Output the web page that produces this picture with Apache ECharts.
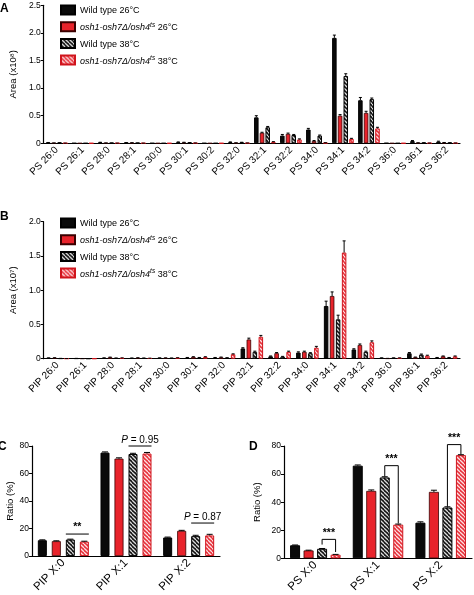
<!DOCTYPE html>
<html><head><meta charset="utf-8">
<script src="https://cdn.jsdelivr.net/npm/echarts@6/dist/echarts.min.js"></script>
<style>html,body{margin:0;padding:0;background:#fff}#c{width:474px;height:595px}</style>
</head><body><div id="c"></div>
<script>
// ---------- data ----------
const seriesNames = ['Wild type 26°C', 'osh1-osh7Δ/osh4ts 26°C', 'Wild type 38°C', 'osh1-osh7Δ/osh4ts 38°C'];

const catsA = ['PS 26:0','PS 26:1','PS 28:0','PS 28:1','PS 30:0','PS 30:1','PS 30:2','PS 32:0','PS 32:1','PS 32:2','PS 34:0','PS 34:1','PS 34:2','PS 36:0','PS 36:1','PS 36:2'];
const aWt26  = [0.012,0.002,0.015,0.010,0.002,0.020,0.002,0.020,0.47,0.14,0.25,1.91,0.78,0.003,0.040,0.030];
const aMut26 = [0.004,0.001,0.004,0.008,0.001,0.015,0.001,0.006,0.19,0.17,0.04,0.50,0.55,0.001,0.006,0.012];
const aWt38  = [0.008,0.001,0.004,0.004,0.001,0.010,0.001,0.015,0.29,0.15,0.14,1.22,0.80,0.001,0.008,0.008];
const aMut38 = [0.002,0.001,0.002,0.002,0.001,0.004,0.001,0.004,0.025,0.07,0.008,0.08,0.27,0.001,0.003,0.004];
const aWt26Err  = [0.003,0,0.004,0.003,0,0.005,0,0.005,0.03,0.02,0.02,0.05,0.05,0,0.01,0.008];
const aMut26Err = [0.002,0,0.002,0.002,0,0.004,0,0.002,0.01,0.015,0.01,0.02,0.03,0,0.002,0.003];
const aWt38Err  = [0.002,0,0.002,0.002,0,0.003,0,0.004,0.015,0.01,0.01,0.04,0.02,0,0.002,0.002];
const aMut38Err = [0.001,0,0.001,0.001,0,0.002,0,0.002,0.005,0.01,0.003,0.01,0.02,0,0.001,0.001];

const catsB = ['PIP 26:0','PIP 26:1','PIP 28:0','PIP 28:1','PIP 30:0','PIP 30:1','PIP 32:0','PIP 32:1','PIP 32:2','PIP 34:0','PIP 34:1','PIP 34:2','PIP 36:0','PIP 36:1','PIP 36:2'];
const bWt26  = [0.010,0.004,0.010,0.008,0.010,0.015,0.015,0.15,0.035,0.09,0.77,0.135,0.010,0.080,0.015];
const bMut26 = [0.012,0.002,0.020,0.012,0.010,0.025,0.020,0.28,0.080,0.10,0.915,0.20,0.004,0.020,0.035];
const bWt38  = [0.004,0.001,0.008,0.008,0.008,0.015,0.012,0.10,0.030,0.08,0.575,0.10,0.010,0.060,0.015];
const bMut38 = [0.002,0.001,0.010,0.006,0.012,0.025,0.065,0.32,0.100,0.16,1.55,0.24,0.010,0.045,0.035];
const bWt26Err  = [0.002,0.001,0.002,0.002,0.002,0.003,0.003,0.01,0.005,0.01,0.07,0.01,0.002,0.01,0.003];
const bMut26Err = [0.002,0.001,0.003,0.002,0.002,0.004,0.004,0.02,0.01,0.01,0.06,0.015,0.001,0.004,0.005];
const bWt38Err  = [0.001,0,0.002,0.002,0.002,0.003,0.002,0.01,0.004,0.008,0.06,0.01,0.002,0.008,0.003];
const bMut38Err = [0.001,0,0.002,0.002,0.002,0.004,0.006,0.02,0.01,0.02,0.17,0.02,0.002,0.006,0.005];

const catsC = ['PIP X:0','PIP X:1','PIP X:2'];
const cWt26  = [11.5, 75.2, 13.5];
const cMut26 = [10.8, 70.8, 18.3];
const cWt38  = [12.0, 74.2, 14.5];
const cMut38 = [10.5, 74.5, 15.0];
const cWt26Err  = [0.3, 0.5, 0.3];
const cMut26Err = [0.3, 0.6, 0.4];
const cWt38Err  = [0.3, 0.5, 0.6];
const cMut38Err = [0.3, 0.8, 0.8];
const annotC = [
  {cat: 0, from: 2, to: 3, y: 16, text: '{b|**}'},
  {cat: 1, from: 2, to: 3, y: 80, text: '{i|P} = 0.95'},
  {cat: 2, from: 2, to: 3, y: 24, text: '{i|P} = 0.87'}
];

const catsD = ['PS X:0','PS X:1','PS X:2'];
const dWt26  = [9.3, 66.0, 25.4];
const dMut26 = [5.6, 48.0, 47.3];
const dWt38  = [6.8, 57.6, 36.2];
const dMut38 = [2.6, 24.0, 73.5];
const dWt26Err  = [0.2, 0.5, 0.6];
const dMut26Err = [0.2, 0.7, 1.2];
const dWt38Err  = [0.2, 0.5, 0.5];
const dMut38Err = [0.2, 0.4, 0.3];
const annotD = [
  {cat: 0, from: 2, to: 3, y: 13.5, leftEnd: 9.8, rightEnd: 4.5, text: '{b|***}'},
  {cat: 1, from: 2, to: 3, y: 66, leftEnd: 58.5, rightEnd: 24.8, text: '{b|***}'},
  {cat: 2, from: 2, to: 3, y: 81, leftEnd: 36.8, rightEnd: 74.2, text: '{b|***}'}
];

// ---------- styles ----------
const FONT = '"Liberation Sans", Arial, sans-serif';
function stripes(base, stripe) {
  const s = 4, c = document.createElement('canvas');
  c.width = s; c.height = s;
  const ctx = c.getContext('2d');
  ctx.fillStyle = base; ctx.fillRect(0, 0, s, s);
  ctx.strokeStyle = stripe; ctx.lineWidth = 1.3;
  for (const k of [-s, 0, s]) { ctx.beginPath(); ctx.moveTo(k, 0); ctx.lineTo(k + s, s); ctx.stroke(); }
  return {image: c, repeat: 'repeat'};
}
const styles = [
  {color: '#0a0a0a', borderColor: '#000', borderWidth: 1},
  {color: '#e8232b', borderColor: '#3a0000', borderWidth: 0.8},
  {color: stripes('#111', 'rgba(255,255,255,0.85)'), borderColor: '#000', borderWidth: 1},
  {color: stripes('#e8303a', 'rgba(255,255,255,0.85)'), borderColor: '#d0141c', borderWidth: 1}
];

const panels = [
  {cats: catsA, vals: [aWt26, aMut26, aWt38, aMut38], errs: [aWt26Err, aMut26Err, aWt38Err, aMut38Err], w: 4.5, g: 1.2, cap: 1.5},
  {cats: catsB, vals: [bWt26, bMut26, bWt38, bMut38], errs: [bWt26Err, bMut26Err, bWt38Err, bMut38Err], w: 4.5, g: 1.5, cap: 1.5},
  {cats: catsC, vals: [cWt26, cMut26, cWt38, cMut38], errs: [cWt26Err, cMut26Err, cWt38Err, cMut38Err], w: 9, g: 5, cap: 3},
  {cats: catsD, vals: [dWt26, dMut26, dWt38, dMut38], errs: [dWt26Err, dMut26Err, dWt38Err, dMut38Err], w: 10, g: 3.5, cap: 3}
];
function offsetOf(p, i) {
  const total = 4 * p.w + 3 * p.g;
  return -total / 2 + i * (p.w + p.g) + p.w / 2;
}

const grids = [
  {left: 40, top: 5.3, right: 14, bottom: 451.7},
  {left: 42, top: 221.7, right: 14, bottom: 236.3},
  {left: 32, top: 446, right: 254, bottom: 35},
  {left: 284, top: 446, right: 2, bottom: 35}
];
const yMax = [2.5, 2.0, 80, 80];
const yInt = [0.5, 0.5, 20, 20];
const yNames = ['Area (x10⁸)', 'Area (x10⁷)', 'Ratio (%)', 'Ratio (%)'];
const yNameGap = [22, 24, 16, 22];
const xLabelSize = [10, 10, 11.5, 11.5];

const xAxes = panels.map((p, k) => ({
  type: 'category', gridIndex: k, data: p.cats,
  axisLine: {lineStyle: {color: '#000', width: 1.2}},
  axisTick: {alignWithLabel: true, length: 3, lineStyle: {color: '#000'}},
  axisLabel: {rotate: 45, interval: 0, fontSize: xLabelSize[k], color: '#000', fontFamily: FONT, margin: 5}
}));
const yAxes = panels.map((p, k) => ({
  type: 'value', gridIndex: k, min: 0, max: yMax[k], interval: yInt[k],
  name: yNames[k], nameLocation: 'middle', nameGap: yNameGap[k], nameRotate: 90,
  nameTextStyle: {fontSize: 9.5, color: '#000', fontFamily: FONT},
  splitLine: {show: false},
  axisLine: {show: true, lineStyle: {color: '#000', width: 1.2}},
  axisTick: {show: true, length: 3, lineStyle: {color: '#000'}},
  axisLabel: {fontSize: 8.5, color: '#000', fontFamily: FONT, margin: 3,
    formatter: v => (k < 2 ? (v === 0 ? '0' : v.toFixed(1)) : String(v))}
}));

const series = [];
panels.forEach((p, k) => {
  p.vals.forEach((vals, i) => {
    series.push({
      type: 'bar', name: seriesNames[i], xAxisIndex: k, yAxisIndex: k,
      data: vals, barWidth: p.w, barGap: (p.g / p.w * 100) + '%',
      itemStyle: styles[i], silent: true, z: 2
    });
  });
  p.vals.forEach((vals, i) => {
    const off = offsetOf(p, i);
    series.push({
      type: 'custom', xAxisIndex: k, yAxisIndex: k, silent: true, z: 3,
      data: vals.map((v, j) => [j, v, p.errs[i][j]]),
      renderItem: (params, api) => {
        const e = api.value(2);
        if (!e) return null;
        const v = api.value(1);
        const p0 = api.coord([api.value(0), v]);
        const p1 = api.coord([api.value(0), v + e]);
        const cx = p0[0] + off;
        return {type: 'group', children: [
          {type: 'line', shape: {x1: cx, y1: p0[1], x2: cx, y2: p1[1]}, style: {stroke: '#000', lineWidth: 1}},
          {type: 'line', shape: {x1: cx - p.cap, y1: p1[1], x2: cx + p.cap, y2: p1[1]}, style: {stroke: '#000', lineWidth: 1}}
        ]};
      }
    });
  });
});

function annotSeries(k, annots, legs) {
  const p = panels[k];
  return {
    type: 'custom', xAxisIndex: k, yAxisIndex: k, silent: true, z: 5, clip: false,
    data: annots.map(a => [a.cat, a.y]),
    renderItem: (params, api) => {
      const a = annots[params.dataIndex];
      const c = api.coord([a.cat, a.y]);
      const children = [];
      let x1, x2;
      if (legs) {
        x1 = c[0] + offsetOf(p, a.from);
        x2 = c[0] + offsetOf(p, a.to);
        const yl = api.coord([a.cat, a.leftEnd])[1];
        const yr = api.coord([a.cat, a.rightEnd])[1];
        children.push({type: 'polyline', shape: {points: [[x1, yl], [x1, c[1]], [x2, c[1]], [x2, yr]]}, style: {stroke: '#000', lineWidth: 1, fill: null}});
      } else {
        x1 = c[0] + offsetOf(p, a.from) - p.w / 2;
        x2 = c[0] + offsetOf(p, a.to) + p.w / 2;
        children.push({type: 'line', shape: {x1: x1, y1: c[1], x2: x2, y2: c[1]}, style: {stroke: '#000', lineWidth: 1}});
      }
      children.push({type: 'text', style: {
        text: a.text, x: (x1 + x2) / 2, y: c[1] - 1, align: 'center', verticalAlign: 'bottom',
        fontSize: 10, fontFamily: FONT, fill: '#000',
        rich: {i: {fontStyle: 'italic', fontSize: 10, fontFamily: FONT}, b: {fontWeight: 'bold', fontSize: 10.5, fontFamily: FONT}}
      }});
      return {type: 'group', children: children};
    }
  };
}
series.push(annotSeries(2, annotC, false));
series.push(annotSeries(3, annotD, true));

function legendAt(top) {
  return {
    data: seriesNames, orient: 'vertical', left: 60, top: top, padding: 0,
    icon: 'rect', itemWidth: 14, itemHeight: 9, itemGap: 5.7, selectedMode: false,
    textStyle: {fontSize: 9, color: '#000', fontFamily: FONT,
      rich: {
        i: {fontStyle: 'italic', fontSize: 9, fontFamily: FONT, lineHeight: 11, verticalAlign: 'bottom'},
        s: {fontStyle: 'italic', fontSize: 6.5, fontFamily: FONT, lineHeight: 11, verticalAlign: 'top'},
        n: {fontSize: 9, fontFamily: FONT, lineHeight: 11, verticalAlign: 'bottom'}
      }},
    formatter: name => {
      if (name.indexOf('osh') === 0) {
        const temp = name.slice(name.lastIndexOf(' '));
        return '{i|osh1-osh7Δ/osh4}{s|ts}{n|' + temp + '}';
      }
      return '{n|' + name + '}';
    }
  };
}

const letters = [['A', 0, 3], ['B', 0, 211], ['C', -2, 441], ['D', 249, 441]];

const chart = echarts.init(document.getElementById('c'), null, {renderer: 'canvas'});
chart.setOption({
  animation: false,
  backgroundColor: '#fff',
  textStyle: {fontFamily: FONT},
  title: letters.map(l => ({text: l[0], left: l[1], top: l[2], padding: 0,
    textStyle: {fontSize: 12, fontWeight: 'bold', color: '#000', fontFamily: FONT}})),
  legend: [legendAt(4.5), legendAt(217.5)],
  grid: grids,
  xAxis: xAxes,
  yAxis: yAxes,
  series: series
});
</script>
</body></html>
